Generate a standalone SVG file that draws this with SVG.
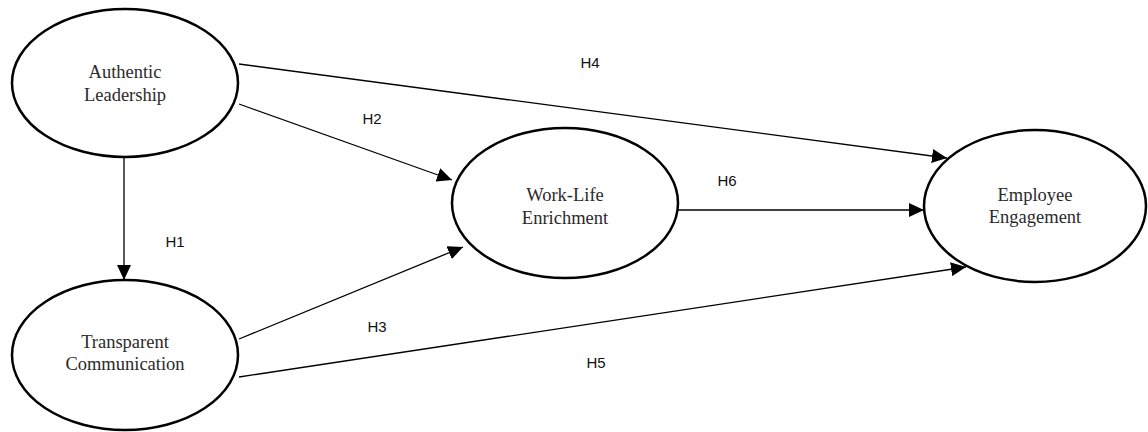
<svg xmlns="http://www.w3.org/2000/svg" width="1148" height="432" viewBox="0 0 1148 432">
<style>
.node ellipse{fill:#fff;stroke:#000;stroke-width:2.5}
.node text{font-family:"Liberation Serif","Times New Roman",serif;font-size:18.5px;fill:#2a2a2a;text-anchor:middle}
.conn line{stroke:#000;stroke-width:1.3;marker-end:url(#arr)}
.lbl{font-family:"Liberation Sans",Arial,sans-serif;font-size:15px;fill:#111;text-anchor:middle}
</style>
<defs>
<marker id="arr" markerUnits="userSpaceOnUse" markerWidth="16" markerHeight="14" refX="15" refY="7" orient="auto">
<path d="M0,0 L15,7 L0,14 Z" fill="#000"/>
</marker>
</defs>
<rect width="1148" height="432" fill="#fff"/>
<g class="conn">
<line x1="124" y1="157" x2="124" y2="280"/>
<line x1="239" y1="104" x2="452" y2="180"/>
<line x1="239" y1="64" x2="947" y2="158"/>
<line x1="239" y1="339" x2="463" y2="247"/>
<line x1="239" y1="377" x2="966" y2="267"/>
<line x1="678" y1="210" x2="924" y2="210"/>
</g>
<g id="authentic-leadership" class="node">
<ellipse cx="125" cy="83" rx="113" ry="74"/>
<text x="125" y="78">Authentic</text>
<text x="125" y="101">Leadership</text>
</g>
<g id="transparent-communication" class="node">
<ellipse cx="125" cy="355" rx="113" ry="75"/>
<text x="125" y="348">Transparent</text>
<text x="125" y="370">Communication</text>
</g>
<g id="work-life-enrichment" class="node">
<ellipse cx="565" cy="203" rx="113" ry="75"/>
<text x="565" y="201">Work-Life</text>
<text x="565" y="224">Enrichment</text>
</g>
<g id="employee-engagement" class="node">
<ellipse cx="1035" cy="206" rx="111" ry="76"/>
<text x="1035" y="201">Employee</text>
<text x="1035" y="223">Engagement</text>
</g>
<g id="labels">
<text class="lbl" x="590" y="68">H4</text>
<text class="lbl" x="372" y="124">H2</text>
<text class="lbl" x="175" y="247">H1</text>
<text class="lbl" x="727" y="186">H6</text>
<text class="lbl" x="377" y="332">H3</text>
<text class="lbl" x="596" y="368">H5</text>
</g>
</svg>
